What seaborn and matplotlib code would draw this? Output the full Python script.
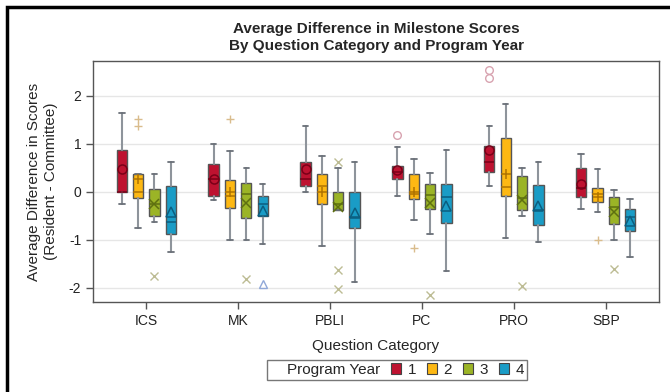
import matplotlib
matplotlib.use("Agg")
import matplotlib.pyplot as plt
import matplotlib.patches as mpatches
import numpy as np
import seaborn as sns

# data
categories = ["ICS", "MK", "PBLI", "PC", "PRO", "SBP"]
years = ["1", "2", "3", "4"]

# per year: one value per category
y1_lo = [-0.25, -0.17, 0.00, -0.08, 0.13, -0.36]
y1_q1 = [0.00, -0.08, 0.12, 0.26, 0.41, -0.11]
y1_med = [0.00, 0.27, 0.27, 0.41, 0.63, 0.08]
y1_q3 = [0.88, 0.58, 0.63, 0.53, 0.95, 0.49]
y1_hi = [1.64, 1.00, 1.37, 0.93, 1.37, 0.78]
y1_mean = [0.48, 0.27, 0.47, 0.45, 0.88, 0.17]
y1_out = [[], [], [], [1.18], [2.38, 2.55], []]

y2_lo = [-0.76, -1.00, -1.13, -0.58, -0.96, -0.43]
y2_q1 = [-0.13, -0.34, -0.25, -0.15, -0.08, -0.22]
y2_med = [0.00, -0.08, 0.13, -0.04, 0.09, -0.04]
y2_q3 = [0.38, 0.25, 0.38, 0.38, 1.12, 0.08]
y2_hi = [0.38, 0.85, 0.75, 0.68, 1.84, 0.47]
y2_mean = [0.27, 0.00, 0.00, 0.00, 0.38, -0.10]
y2_out = [[1.37, 1.51], [1.51], [], [-1.18], [], [-1.00]]

y3_lo = [-0.64, -1.00, -0.38, -0.89, -0.50, -1.00]
y3_q1 = [-0.50, -0.55, -0.38, -0.36, -0.38, -0.68]
y3_med = [-0.25, -0.04, -0.25, -0.06, -0.13, -0.31]
y3_q3 = [0.06, 0.19, 0.00, 0.17, 0.33, -0.10]
y3_hi = [0.38, 0.50, 0.50, 0.39, 0.50, 0.03]
y3_mean = [-0.26, -0.23, -0.31, -0.23, -0.17, -0.43]
y3_out = [[-1.75], [-1.83], [0.63, -1.63, -2.02], [-2.15], [-1.97], [-1.62]]

y4_lo = [-1.25, -1.09, -1.88, -1.65, -1.05, -1.37]
y4_q1 = [-0.88, -0.50, -0.75, -0.65, -0.70, -0.82]
y4_med = [-0.64, -0.25, -0.52, -0.11, -0.38, -0.53]
y4_q3 = [0.13, -0.08, 0.00, 0.17, 0.15, -0.36]
y4_hi = [0.63, 0.17, 0.63, 0.88, 0.63, -0.14]
y4_mean = [-0.43, -0.40, -0.45, -0.30, -0.30, -0.60]
y4_out = [[], [-1.92], [], [], [], []]

fills = ["#BE1230", "#FDB813", "#9BB426", "#1A9CC6"]
darks = ["#7A0018", "#B07400", "#5E7010", "#0B5E80"]
faded = ["#D8A3B0", "#D9BC8C", "#BDBC94", "#90A8D8"]
mean_markers = ["o", "+", "x", "^"]

sns.set_style("white")
plt.rcParams["font.family"] = ["Liberation Sans", "DejaVu Sans"]

fig = plt.figure(figsize=(6.7, 3.92), dpi=100)
ax = fig.add_axes([0.1388, 0.2296, 0.8448, 0.6148])

all_years = [
    (y1_lo, y1_q1, y1_med, y1_q3, y1_hi, y1_mean, y1_out),
    (y2_lo, y2_q1, y2_med, y2_q3, y2_hi, y2_mean, y2_out),
    (y3_lo, y3_q1, y3_med, y3_q3, y3_hi, y3_mean, y3_out),
    (y4_lo, y4_q1, y4_med, y4_q3, y4_hi, y4_mean, y4_out),
]

x = np.arange(len(categories))
step = 0.178
for i, (lo, q1, med, q3, hi, mean, out) in enumerate(all_years):
    stats = []
    for j in range(len(categories)):
        stats.append(dict(whislo=lo[j], q1=q1[j], med=med[j], q3=q3[j],
                          whishi=hi[j], mean=mean[j], fliers=out[j]))
    pos = x + (i - 1.5) * step
    ax.bxp(stats, positions=pos, widths=0.112, patch_artist=True,
           showmeans=True, capwidths=0.06,
           boxprops=dict(facecolor=fills[i], edgecolor="#555555", linewidth=1),
           medianprops=dict(color=darks[i], linewidth=1.1),
           whiskerprops=dict(color="#8E949B", linewidth=1.5),
           capprops=dict(color="#6A7078", linewidth=1.3),
           meanprops=dict(marker=mean_markers[i], markerfacecolor="none",
                          markeredgecolor=darks[i], markersize=6.5,
                          markeredgewidth=1.1),
           flierprops=dict(marker=mean_markers[i], markerfacecolor="none",
                           markeredgecolor=faded[i], markersize=5.5,
                           markeredgewidth=1.0))

ax.set_xlim(-0.58, 5.58)
ax.set_ylim(-2.3, 2.73)
ax.set_xticks(x)
ax.set_xticklabels(categories, fontsize=10)
ax.set_yticks([-2, -1, 0, 1, 2])
ax.set_yticklabels(["-2", "-1", "0", "1", "2"], fontsize=10)
ax.yaxis.grid(True, color="#E6E6E6", linewidth=1)
ax.set_axisbelow(True)
ax.tick_params(axis="both", direction="out", length=5, width=1,
               color="#555555", labelcolor="#222222", bottom=True, left=True)
for s in ax.spines.values():
    s.set_color("#555555")
    s.set_linewidth(1)

ax.set_xlabel("Question Category", fontsize=11, labelpad=8)
ax.set_ylabel("Average Difference in Scores\n(Resident - Committee)", fontsize=11,
              labelpad=8)
ax.set_title("Average Difference in Milestone Scores\nBy Question Category and Program Year",
             fontsize=11, fontweight="bold", pad=8, linespacing=1.25)

handles = [mpatches.Patch(color="none", label="Program Year")]
for i, y in enumerate(years):
    handles.append(mpatches.Patch(facecolor=fills[i], edgecolor="#444444",
                                  linewidth=0.8, label=y))
leg = fig.legend(handles=handles, loc="center", ncol=5,
                 bbox_to_anchor=(397 / 670, 1 - 370 / 392), fontsize=11,
                 frameon=True, fancybox=False, edgecolor="#555555",
                 handlelength=0.7, handleheight=0.7, handletextpad=0.4,
                 columnspacing=0.7, borderpad=0.2)
leg.get_frame().set_linewidth(1)
# shrink the dummy handle so the title text sits at the left
leg.legend_handles[0].set_width(0)

fig.patches.append(mpatches.Rectangle((7 / 670, -0.1), 1.2, 1.1 - 7 / 392,
                                      transform=fig.transFigure, fill=False,
                                      edgecolor="black", linewidth=2.5))

fig.savefig("out.png", dpi=100)
